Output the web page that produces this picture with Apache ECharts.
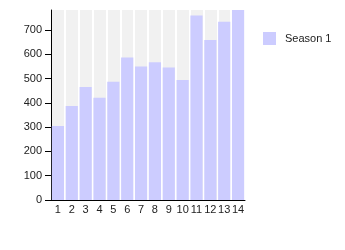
<!DOCTYPE html>
<html><head><meta charset="utf-8">
<script src="https://cdn.jsdelivr.net/npm/echarts@6/dist/echarts.min.js"></script>
<style>html,body{margin:0;padding:0;background:#fff}#c{width:345px;height:250px}</style>
</head><body><div id="c"></div>
<script>
const categories = ['1','2','3','4','5','6','7','8','9','10','11','12','13','14'];
const season1 = [305, 387, 465, 421, 487, 587, 549, 567, 545, 494, 759, 659, 734, 782];
const seriesName = 'Season 1';

const chart = echarts.init(document.getElementById('c'), null, {renderer:'canvas'});
chart.setOption({
  animation: false,
  legend: {
    data: [seriesName], left: 258, top: 27, orient: 'vertical',
    itemWidth: 13, itemHeight: 13, itemGap: 8,
    textStyle: {fontFamily: 'Liberation Sans, Arial', fontSize: 11, color: '#222', padding: [0,0,0,4]},
    icon: 'rect'
  },
  grid: {left: 51, top: 10, width: 194, height: 190, backgroundColor: '#f1f1f1', show: true, borderWidth: 0},
  xAxis: {
    type: 'category', data: categories,
    axisLine: {lineStyle: {color: '#000', width: 1}},
    axisTick: {show: false},
    axisLabel: {color: '#222', fontFamily: 'Liberation Sans, Arial', fontSize: 11, margin: 4, interval: 0},
    splitLine: {show: true, interval: 0, lineStyle: {color: '#fff', width: 2}}
  },
  yAxis: {
    type: 'value', min: 0, max: 782, interval: 100,
    axisLine: {show: true, lineStyle: {color: '#000', width: 1}},
    axisTick: {show: true, length: 6, lineStyle: {color: '#000'}},
    axisLabel: {color: '#222', fontFamily: 'Liberation Sans, Arial', fontSize: 11, margin: 9, showMaxLabel: false},
    splitLine: {show: false}
  },
  series: [{
    name: seriesName, type: 'bar', data: season1,
    barCategoryGap: '12%',
    itemStyle: {color: '#ccccff'}
  }]
});
</script></body></html>
